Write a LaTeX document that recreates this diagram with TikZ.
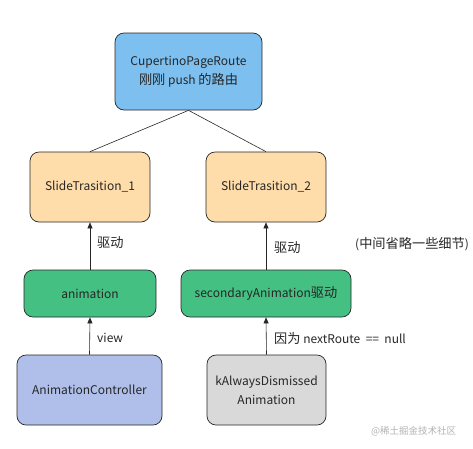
\documentclass[tikz,border=0pt]{standalone}
\usepackage{fontspec}
\setmainfont{Noto Sans CJK SC}
\newfontfamily\zhfont{Noto Sans CJK SC}[Scale=1.1]
\newcommand\zh[1]{{\zhfont #1}}
\usetikzlibrary{arrows.meta}
\definecolor{cblue}{HTML}{7DC0F0}
\definecolor{cpeach}{HTML}{FFDDAA}
\definecolor{cgreen}{HTML}{45C083}
\definecolor{cviolet}{HTML}{AFBFEA}
\definecolor{cgray}{HTML}{D9D9D9}
\begin{document}
\begin{tikzpicture}[x=1pt,y=-1pt,
  box/.style={draw=black!85,line width=0.7pt,rounded corners=9pt,align=center,font=\fontsize{12}{19}\selectfont,text=black!85,inner sep=0pt},
  conn/.style={draw=black!85,line width=0.6pt},
  arr/.style={conn,-{Triangle[length=6pt,width=5pt]}},
  lbl/.style={font=\fontsize{12}{14}\selectfont,text=black!85,anchor=west,inner sep=0pt}]
\useasboundingbox (0,0) rectangle (473,448);
\node[box,fill=cblue,minimum width=147pt,minimum height=77pt] (route) at (188.5,71.5) {CupertinoPageRoute\\\zh{刚刚} push \zh{的路由}};
\node[box,fill=cpeach,minimum width=120pt,minimum height=70pt] (s1) at (90,187) {SlideTrasition\_1};
\node[box,fill=cpeach,minimum width=120pt,minimum height=70pt] (s2) at (266,187) {SlideTrasition\_2};
\node[box,fill=cgreen,minimum width=132pt,minimum height=47pt] (anim) at (90,293.5) {animation};
\node[box,fill=cgreen,minimum width=170pt,minimum height=47pt] (sec) at (266,293.5) {secondaryAnimation\zh{驱动}};
\node[box,fill=cviolet,minimum width=145pt,minimum height=70pt] (ctrl) at (89.5,390) {AnimationController};
\node[box,fill=cgray,minimum width=119pt,minimum height=70pt] (kal) at (266.5,390) {kAlwaysDismissed\\Animation};
\draw[conn] (route.south) -- (s1.north);
\draw[conn] (route.south) -- (s2.north);
\draw[arr] (anim.north) -- (s1.south);
\draw[arr] (sec.north) -- (s2.south);
\draw[arr] (ctrl.north) -- (anim.south);
\draw[arr] (kal.north) -- (sec.south);
\node[lbl] (l1) at (97,243) {\zh{驱动}};
\node[lbl] (l2) at (274,248) {\zh{驱动}};
\node[lbl] (l3) at (355,244) {(\zh{中间省略一些细节})};
\node[lbl] (l4) at (97,338) {view};
\node[lbl] (l5) at (274,338) {\zh{因为}\ nextRoute\ \ ==\ \ null};
\node[lbl,font=\fontsize{9.5}{11}\selectfont,text=black!30] (wm) at (371,431) {@稀土掘金技术社区};
\end{tikzpicture}
\end{document}
